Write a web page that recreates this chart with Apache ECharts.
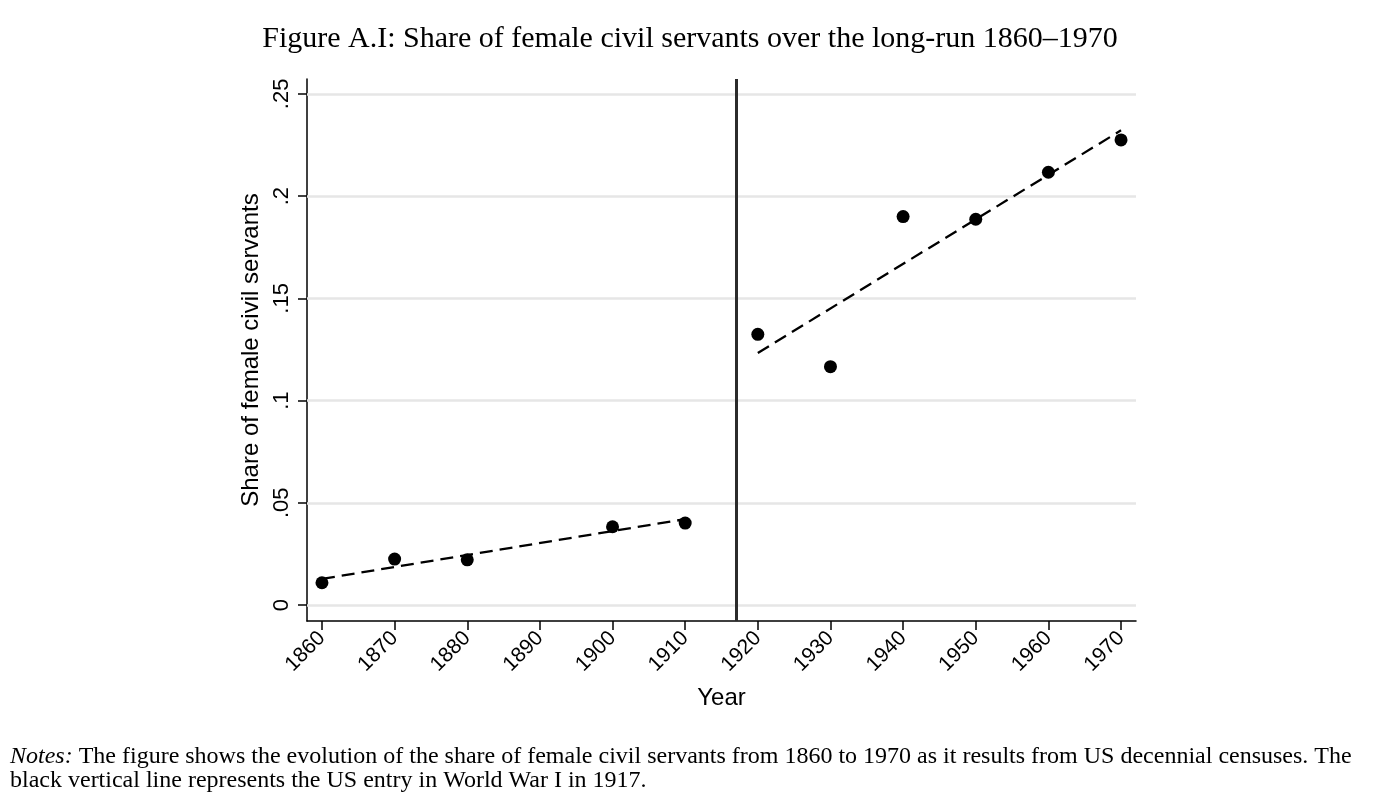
<!DOCTYPE html>
<html><head><meta charset="utf-8">
<script src="https://cdn.jsdelivr.net/npm/echarts@6/dist/echarts.min.js"></script>
<style>html,body{margin:0;padding:0;background:#fff}#c{width:1380px;height:800px}</style>
</head><body><div id="c"></div>
<script>
const years = [1860, 1870, 1880, 1900, 1910, 1920, 1930, 1940, 1950, 1960, 1970];
const shares = [0.0109, 0.0225, 0.0221, 0.0383, 0.0401, 0.1324, 0.1166, 0.1900, 0.1887, 0.2117, 0.2275];
const fitPreYears = [1860, 1910];
const fitPreValues = [0.0128, 0.0420];
const fitPostYears = [1920, 1970];
const fitPostValues = [0.1233, 0.2322];
const warYear = 1917;
const xTicks = [1860, 1870, 1880, 1890, 1900, 1910, 1920, 1930, 1940, 1950, 1960, 1970];
const yTicks = [0, 0.05, 0.1, 0.15, 0.2, 0.25];
const yTickLabels = ['0', '.05', '.1', '.15', '.2', '.25'];

const chart = echarts.init(document.getElementById('c'), null, {renderer: 'canvas'});
const sans = 'Liberation Sans, Arial, sans-serif';
const serif = 'Liberation Serif, Times New Roman, serif';
const yMin = -0.0078, yMax = 0.2573;

chart.setOption({
  backgroundColor: '#fff',
  animation: false,
  title: {
    text: 'Figure A.I: Share of female civil servants over the long-run 1860\u20131970',
    left: 'center', top: 19,
    textStyle: {fontFamily: serif, fontWeight: 'normal', fontSize: 30, color: '#000'}
  },
  grid: {left: 307, right: 244, top: 79, bottom: 179, containLabel: false},
  xAxis: {
    type: 'value', min: 1857.94, max: 1972.06,
    name: 'Year', nameLocation: 'middle', nameGap: 65,
    nameTextStyle: {fontFamily: sans, fontSize: 24, color: '#000'},
    axisLine: {show: true, onZero: false, lineStyle: {color: '#000', width: 1.5}},
    axisTick: {show: true, length: 9, customValues: xTicks, lineStyle: {color: '#000', width: 1.5}},
    axisLabel: {customValues: xTicks, rotate: 45, margin: 14, fontFamily: sans, fontSize: 21, color: '#000',
      formatter: v => String(Math.round(v))},
    splitLine: {show: false}
  },
  yAxis: {
    type: 'value', min: yMin, max: yMax,
    name: 'Share of female civil servants', nameLocation: 'middle', nameGap: 41, nameRotate: 90,
    nameTextStyle: {fontFamily: sans, fontSize: 24, color: '#000'},
    axisLine: {show: true, onZero: false, lineStyle: {color: '#000', width: 1.5}},
    axisTick: {show: true, length: 9, customValues: yTicks, lineStyle: {color: '#000', width: 1.5}},
    axisLabel: {customValues: yTicks, rotate: 90, margin: 14, fontFamily: sans, fontSize: 22, color: '#000',
      formatter: v => { const i = yTicks.findIndex(t => Math.abs(t - v) < 1e-6); return i >= 0 ? yTickLabels[i] : ''; }},
    splitLine: {show: false}
  },
  graphic: [{
    type: 'text', left: 10, top: 745,
    style: {
      text: '{i|Notes:} The figure shows the evolution of the share of female civil servants from 1860 to 1970 as it results from US decennial censuses. The\nblack vertical line represents the US entry in World War I in 1917.',
      fontFamily: serif, fontSize: 24, lineHeight: 24, fill: '#000',
      rich: {i: {fontFamily: serif, fontStyle: 'italic', fontSize: 24, lineHeight: 24, fill: '#000'}}
    }
  }],
  series: [
    {
      type: 'line', data: [], silent: true,
      markLine: {
        silent: true, symbol: 'none', label: {show: false},
        lineStyle: {color: '#e6e6e6', width: 2.5, type: 'solid'},
        data: yTicks.map(t => ({yAxis: t}))
      }
    },
    {
      type: 'line', data: [], silent: true, z: 5,
      markLine: {
        silent: true, symbol: 'none', label: {show: false},
        lineStyle: {color: '#2b2b2b', width: 3, type: 'solid'},
        data: [{xAxis: warYear}]
      }
    },
    {
      type: 'line', data: fitPreYears.map((x, i) => [x, fitPreValues[i]]),
      showSymbol: false, lineStyle: {color: '#000', width: 2.3, type: [13, 7]}, z: 6
    },
    {
      type: 'line', data: fitPostYears.map((x, i) => [x, fitPostValues[i]]),
      showSymbol: false, lineStyle: {color: '#000', width: 2.3, type: [13, 7]}, z: 6
    },
    {
      type: 'scatter', data: years.map((x, i) => [x, shares[i]]),
      symbol: 'circle', symbolSize: 13, itemStyle: {color: '#000', opacity: 1}, z: 7
    }
  ]
});
</script></body></html>
